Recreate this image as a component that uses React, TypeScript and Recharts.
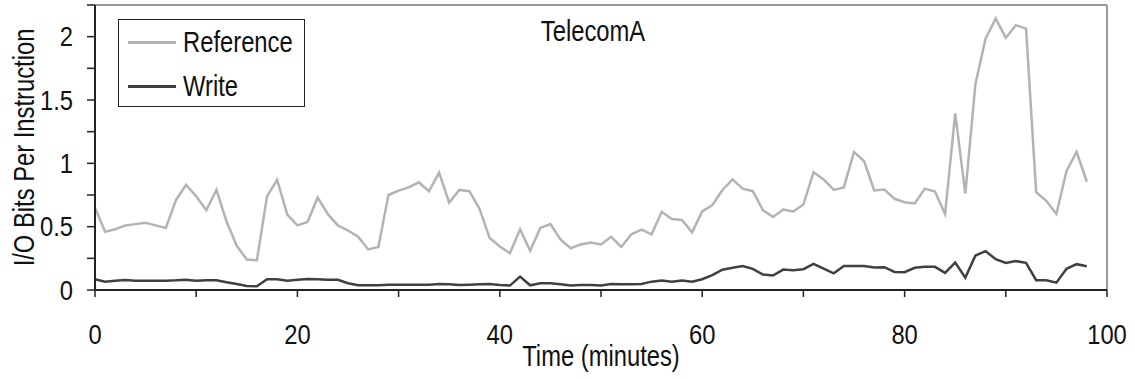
import React from "react";
import { LineChart, Line, XAxis, YAxis, ReferenceLine } from "recharts";

const FONT = '"Liberation Sans", Arial, sans-serif';
// the original uses a narrow face; squeeze Liberation Sans to match
const SQUEEZE = 0.82;
const TICK_SQUEEZE = 0.88;

// minutes sampled once per minute
const MINUTES = [
  0, 1, 2, 3, 4, 5, 6, 7, 8, 9, 10, 11, 12, 13, 14, 15, 16, 17, 18, 19,
  20, 21, 22, 23, 24, 25, 26, 27, 28, 29, 30, 31, 32, 33, 34, 35, 36, 37, 38, 39,
  40, 41, 42, 43, 44, 45, 46, 47, 48, 49, 50, 51, 52, 53, 54, 55, 56, 57, 58, 59,
  60, 61, 62, 63, 64, 65, 66, 67, 68, 69, 70, 71, 72, 73, 74, 75, 76, 77, 78, 79,
  80, 81, 82, 83, 84, 85, 86, 87, 88, 89, 90, 91, 92, 93, 94, 95, 96, 97, 98,
];

const REFERENCE = [
  0.65, 0.46, 0.48, 0.51, 0.52, 0.53, 0.51, 0.49, 0.71, 0.83,
  0.74, 0.63, 0.79, 0.54, 0.35, 0.24, 0.235, 0.74, 0.87, 0.595,
  0.51, 0.537, 0.73, 0.6, 0.51, 0.47, 0.42, 0.32, 0.34, 0.75,
  0.785, 0.81, 0.85, 0.78, 0.926, 0.69, 0.79, 0.78, 0.64, 0.41,
  0.344, 0.29, 0.48, 0.31, 0.49, 0.52, 0.4, 0.33, 0.36, 0.375,
  0.36, 0.42, 0.34, 0.44, 0.476, 0.44, 0.617, 0.56, 0.553, 0.455,
  0.62, 0.67, 0.79, 0.873, 0.8, 0.78, 0.63, 0.577, 0.635, 0.62,
  0.675, 0.93, 0.873, 0.79, 0.81, 1.09, 1.016, 0.786, 0.794, 0.72,
  0.693, 0.683, 0.8, 0.778, 0.6, 1.394, 0.762, 1.627, 1.984, 2.143,
  1.992, 2.09, 2.063, 0.772, 0.704, 0.6, 0.94, 1.09, 0.855,
];

const WRITE = [
  0.085, 0.066, 0.073, 0.079, 0.074, 0.074, 0.074, 0.074, 0.076, 0.08,
  0.074, 0.076, 0.076, 0.061, 0.048, 0.032, 0.03, 0.085, 0.085, 0.074,
  0.08, 0.087, 0.085, 0.08, 0.08, 0.053, 0.037, 0.037, 0.037, 0.042,
  0.042, 0.042, 0.042, 0.042, 0.048, 0.045, 0.04, 0.042, 0.045, 0.048,
  0.04, 0.035, 0.106, 0.037, 0.053, 0.053, 0.045, 0.035, 0.04, 0.04,
  0.035, 0.048, 0.045, 0.045, 0.048, 0.066, 0.074, 0.066, 0.074, 0.065,
  0.085, 0.117, 0.16, 0.176, 0.19, 0.167, 0.122, 0.114, 0.161, 0.156,
  0.164, 0.206, 0.169, 0.132, 0.19, 0.19, 0.19, 0.177, 0.18, 0.143,
  0.14, 0.175, 0.183, 0.183, 0.135, 0.217, 0.098, 0.272, 0.307, 0.243,
  0.214, 0.228, 0.214, 0.077, 0.077, 0.058, 0.167, 0.204, 0.188,
];

const X_TICKS = [0, 10, 20, 30, 40, 50, 60, 70, 80, 90, 100];
const Y_TICKS = [0, 0.25, 0.5, 0.75, 1, 1.25, 1.5, 1.75, 2, 2.25];

const SERIES = [
  { name: "Reference", color: "#b3b3b3" },
  { name: "Write", color: "#404040" },
];

const data = MINUTES.map((m, i) => ({
  minute: m,
  Reference: REFERENCE[i],
  Write: WRITE[i],
}));

const XTick = (props: any) => {
  const { x, y, payload } = props;
  if (payload.value % 20 !== 0) return null;
  return (
    <text
      transform={`translate(${x} ${y}) scale(${TICK_SQUEEZE} 1)`}
      dy="0.71em"
      textAnchor="middle"
      fontSize={27}
      fontFamily={FONT}
      fill="#111"
    >
      {payload.value}
    </text>
  );
};

const YTick = (props: any) => {
  const { x, y, payload } = props;
  if (payload.value % 0.5 !== 0 || payload.value > 2) return null;
  return (
    <text
      transform={`translate(${x} ${y}) scale(${TICK_SQUEEZE} 1)`}
      dy="0.36em"
      textAnchor="end"
      fontSize={27}
      fontFamily={FONT}
      fill="#111"
    >
      {payload.value}
    </text>
  );
};

const narrowText = { fontFamily: FONT, fontSize: 29, color: "#111", lineHeight: "29px", whiteSpace: "nowrap" as const };

export default function App() {
  return (
    <div style={{ position: "absolute", left: 0, top: 0, width: 1135, height: 379, background: "#fff" }}>
      <LineChart
        width={1135}
        height={379}
        data={data}
        margin={{ top: 5, right: 28, left: 0, bottom: 0 }}
      >
        <ReferenceLine y={2.25} stroke="#999" strokeWidth={2} />
        <ReferenceLine x={100} stroke="#999" strokeWidth={2} />
        <XAxis
          dataKey="minute"
          type="number"
          domain={[0, 100]}
          ticks={X_TICKS}
          height={89}
          tickSize={7}
          tickMargin={28}
          axisLine={{ stroke: "#222", strokeWidth: 2 }}
          tickLine={{ stroke: "#222", strokeWidth: 1.5 }}
          tick={<XTick />}
          interval={0}
          label={{
            content: (p: any) => {
              const vb = p.viewBox;
              const cx = vb.x + vb.width / 2;
              const cy = vb.y + 76;
              return (
                <text
                  transform={`translate(${cx} ${cy}) scale(${SQUEEZE} 1)`}
                  textAnchor="middle"
                  fontSize={29}
                  fontFamily={FONT}
                  fill="#111"
                >
                  Time (minutes)
                </text>
              );
            },
          }}
        />
        <YAxis
          type="number"
          domain={[0, 2.25]}
          ticks={Y_TICKS}
          width={95}
          tickSize={8}
          tickMargin={14}
          axisLine={{ stroke: "#222", strokeWidth: 2 }}
          tickLine={{ stroke: "#222", strokeWidth: 1.5 }}
          tick={<YTick />}
          interval={0}
          label={{
            content: (p: any) => {
              const vb = p.viewBox;
              const cx = vb.x + 24;
              const cy = vb.y + vb.height / 2;
              return (
                <text
                  transform={`translate(${cx} ${cy}) rotate(-90) scale(${SQUEEZE} 1)`}
                  textAnchor="middle"
                  dominantBaseline="central"
                  fontSize={29}
                  fontFamily={FONT}
                  fill="#111"
                >
                  I/O Bits Per Instruction
                </text>
              );
            },
          }}
        />
        {SERIES.map((s) => (
          <Line
            key={s.name}
            type="linear"
            dataKey={s.name}
            stroke={s.color}
            strokeWidth={2.5}
            dot={false}
            isAnimationActive={false}
          />
        ))}
      </LineChart>

      {/* title */}
      <div
        style={{
          ...narrowText,
          position: "absolute",
          left: 393,
          top: 17,
          width: 400,
          textAlign: "center",
          transform: `scaleX(${SQUEEZE})`,
          transformOrigin: "center",
        }}
      >
        TelecomA
      </div>

      {/* legend */}
      <div
        style={{
          position: "absolute",
          left: 118,
          top: 19,
          width: 185,
          height: 86,
          border: "1px solid #222",
          background: "#fff",
        }}
      >
        {SERIES.map((s, i) => (
          <React.Fragment key={s.name}>
            <div
              style={{
                position: "absolute",
                left: 9,
                top: 21 + i * 44,
                width: 48,
                height: 3,
                background: s.color,
              }}
            />
            <div
              style={{
                ...narrowText,
                position: "absolute",
                left: 64,
                top: 8 + i * 44,
                transform: `scaleX(${SQUEEZE})`,
                transformOrigin: "left center",
              }}
            >
              {s.name}
            </div>
          </React.Fragment>
        ))}
      </div>
    </div>
  );
}
